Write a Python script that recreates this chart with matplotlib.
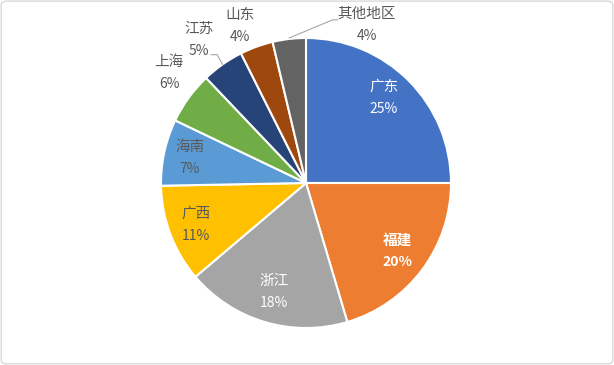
import numpy as np
import matplotlib
matplotlib.use("Agg")
import matplotlib.pyplot as plt
from matplotlib.patches import FancyBboxPatch

plt.rcParams['font.family'] = ['Noto Sans CJK SC', 'DejaVu Sans']

regions = ["广东", "福建", "浙江", "广西", "海南", "上海", "江苏", "山东", "其他地区"]
shares = [25.0, 20.4, 18.4, 10.9, 7.4, 5.8, 4.7, 3.7, 3.7]
colors = ["#4472C4", "#ED7D31", "#A5A5A5", "#FFC000", "#5B9BD5",
          "#70AD47", "#264478", "#9E480E", "#636363"]
label_colors = ["white", "white", "white", "#595959", "#595959",
                "#595959", "#595959", "#595959", "#595959"]
label_weights = ["normal", "bold", "normal", "normal", "normal",
                 "normal", "normal", "normal", "normal"]
label_dist = [0.796, 0.782, 0.781, 0.814, 0.82, 1.21, 1.233, 1.175, 1.165]
label_angle_shift = [2.5, 0.1, 0, 0, 0.3, -2.7, 1.6, 2.8, -27.7]

W, H = 614, 365
fig = plt.figure(figsize=(6.14, 3.65), dpi=100)
ax = fig.add_axes([0, 0, 1, 1])

cx, cy, R = 306, 182, 145
wedges, _ = ax.pie(shares, colors=colors, startangle=90, counterclock=False,
                   center=(cx, cy), radius=R, frame=True,
                   wedgeprops=dict(edgecolor='white', linewidth=1.5))
ax.set_xlim(0, W)
ax.set_ylim(0, H)
ax.set_aspect('equal')
ax.axis('off')

total = sum(shares)
cum = 0
for i, (name, v) in enumerate(zip(regions, shares)):
    mid = 90 - 360 * (cum + v / 2) / total
    cum += v
    ang = np.deg2rad(mid + label_angle_shift[i])
    r = R * label_dist[i]
    x = cx + r * np.cos(ang)
    y = cy + r * np.sin(ang)
    pct = round(100 * v / total)
    ax.text(x, y + 11, name, ha='center', va='center', fontsize=10.5,
            color=label_colors[i], fontweight=label_weights[i])
    ax.text(x, y - 11, f"{pct}%", ha='center', va='center', fontsize=10,
            color=label_colors[i], fontweight=label_weights[i])
    ma = np.deg2rad(mid)
    ex, ey = cx + R * np.cos(ma), cy + R * np.sin(ma)
    if name == "江苏":
        ax.plot([x + 12, x + 18, ex], [y - 15, y - 15, ey],
                color='#A6A6A6', lw=0.8)
    if name == "其他地区":
        ax.plot([ex, x - 34, x - 29], [ey + 1, y + 5.5, y + 5.5],
                color='#A6A6A6', lw=0.8)

border = FancyBboxPatch((0.002, 0.003), 0.996, 0.994,
                        boxstyle="round,pad=0,rounding_size=0.01",
                        transform=fig.transFigure, fill=False,
                        edgecolor='#D9D9D9', linewidth=1)
fig.patches.append(border)

fig.savefig("out.png", dpi=100, facecolor='white')
